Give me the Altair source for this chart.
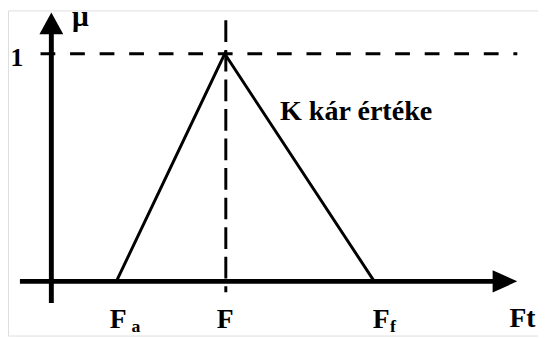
import altair as alt
import pandas as pd

# Membership function (triangle) values
tri_x = [3.0, 8.0, 14.9]
tri_y = [0.0, 1.0, 0.0]

# axis extents (data units)
xaxis_x = [-1.45, 20.4]
yaxis_y = [-0.095, 1.09]
peak_x = 8.05
hdash_x = [-0.5, 21.5]
vdash_y = [1.147, -0.048]

# labels
lab_text = ["1", "μ", "K kár értéke", "F", "F", "F", "Ft"]
lab_x = [-1.59, 0.955, 10.55, 2.7, 8.02, 14.83, 21.14]
lab_y = [0.945, 1.121, 0.71, -0.2035, -0.2035, -0.2035, -0.2]
lab_size = [26, 30, 28.5, 28, 28, 28, 28]
lab_align = ["center", "left", "left", "left", "center", "left", "left"]
sub_text = ["a", "f"]
sub_x = [3.7, 15.62]
sub_y = [-0.222, -0.222]

W, H = 538, 330
xs = alt.Scale(domain=[-2, (W + 8 - 52) / 22], nice=False, zero=False)
ys = alt.Scale(domain=[(283 - (8 + H)) / 231, (283 - 8) / 231], nice=False, zero=False)
X = lambda f: alt.X(f, type="quantitative", scale=xs, axis=None)
Y = lambda f: alt.Y(f, type="quantitative", scale=ys, axis=None)

tri = alt.Chart(pd.DataFrame({"x": tri_x, "y": tri_y})).mark_line(
    color="black", strokeWidth=3, strokeJoin="miter"
).encode(x=X("x"), y=Y("y"))

xaxis = alt.Chart(pd.DataFrame({"x": [xaxis_x[0]], "x2": [xaxis_x[1]], "y": [0.0]})).mark_rule(
    color="black", strokeWidth=5
).encode(x=X("x"), x2="x2", y=Y("y"))

yaxis = alt.Chart(pd.DataFrame({"y": [yaxis_y[0]], "y2": [yaxis_y[1]], "x": [0.0]})).mark_rule(
    color="black", strokeWidth=5
).encode(y=Y("y"), y2="y2", x=X("x"))

hdash = alt.Chart(pd.DataFrame({"x": [hdash_x[0]], "x2": [hdash_x[1]], "y": [1.0]})).mark_rule(
    color="black", strokeWidth=3, strokeDash=[15, 15]
).encode(x=X("x"), x2="x2", y=Y("y"))

vdash = alt.Chart(pd.DataFrame({"y": [vdash_y[0]], "y2": [vdash_y[1]], "x": [peak_x]})).mark_rule(
    color="black", strokeWidth=3, strokeDash=[22, 8]
).encode(y=Y("y"), y2="y2", x=X("x"))

up_arrow = alt.Chart(pd.DataFrame({"x": [0.0], "y": [1.134]})).mark_point(
    shape="M0,-1L1.1,1L-1.1,1Z", size=484, filled=True, color="black", opacity=1, strokeWidth=0
).encode(x=X("x"), y=Y("y"))

right_arrow = alt.Chart(pd.DataFrame({"x": [20.93], "y": [0.0]})).mark_point(
    shape="M1,0L-1,-0.9L-1,0.9Z", size=625, filled=True, color="black", opacity=1, strokeWidth=0
).encode(x=X("x"), y=Y("y"))

texts = []
for t, x, y, s, a in zip(lab_text, lab_x, lab_y, lab_size, lab_align):
    texts.append(
        alt.Chart(pd.DataFrame({"t": [t], "x": [x], "y": [y]})).mark_text(
            font="Liberation Serif", fontWeight="bold", fontSize=s, align=a,
            baseline="alphabetic", color="black"
        ).encode(x=X("x"), y=Y("y"), text="t:N")
    )
subs = alt.Chart(pd.DataFrame({"t": sub_text, "x": sub_x, "y": sub_y})).mark_text(
    font="Liberation Serif", fontWeight="bold", fontSize=18, align="left",
    baseline="alphabetic", color="black"
).encode(x=X("x"), y=Y("y"), text="t:N")

chart = alt.layer(hdash, vdash, tri, xaxis, yaxis, up_arrow, right_arrow, *texts, subs).properties(
    width=W, height=H, autosize=alt.AutoSizeParams(type="none"), padding=0
).configure_view(stroke=None).configure(background="white")

chart.save("out.html", embed_options={"renderer": "svg", "actions": False})
